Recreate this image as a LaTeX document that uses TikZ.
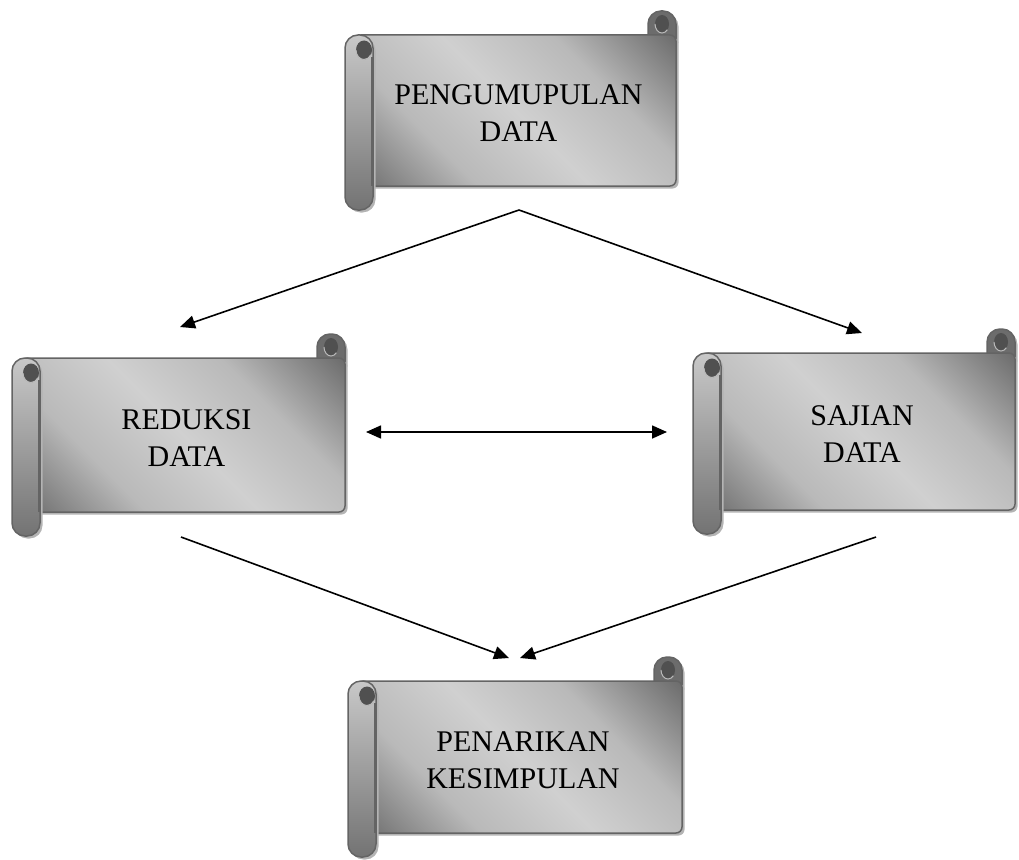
\documentclass[tikz,border=0pt]{standalone}
\usepackage{fontspec}
\setmainfont{Liberation Serif}
\usetikzlibrary{arrows.meta,shadows}
\definecolor{scrolldark}{RGB}{105,105,105}
\definecolor{scrollmid}{RGB}{185,185,185}
\definecolor{scrolllight}{RGB}{208,208,208}
\definecolor{rolltop}{RGB}{200,200,200}
\definecolor{rollbottom}{RGB}{115,115,115}
\definecolor{rightrollfill}{RGB}{108,108,108}
\definecolor{scrolledge}{RGB}{100,100,100}
\definecolor{curldark}{RGB}{80,80,80}
\definecolor{shadowgray}{RGB}{180,180,180}
\pgfdeclarehorizontalshading{scrollbodyshade}{100bp}{color(0bp)=(scrolldark); color(14bp)=(scrolldark); color(33bp)=(scrollmid); color(50bp)=(scrolllight); color(67bp)=(scrollmid); color(86bp)=(scrolldark); color(100bp)=(scrolldark)}
\tikzset{
  scrollline/.style={draw=scrolledge, line width=1.5pt},
  scrollshadow/.style={drop shadow={shadow xshift=2.5pt, shadow yshift=-2.5pt, fill=shadowgray, opacity=1}},
  bodystyle/.style={scrollline, scrollshadow, shading=scrollbodyshade, shading angle=45, rounded corners=6pt},
  leftroll/.style={scrollline, scrollshadow, top color=rolltop, bottom color=rollbottom, rounded corners=13pt},
  rightroll/.style={scrollline, scrollshadow, fill=rightrollfill, rounded corners=13pt},
  curl/.style={fill=curldark},
  curledge/.style={draw=scrolledge!45!white, line width=1pt},
  scrolltext/.style={align=center, font=\fontsize{30}{37}\selectfont, inner sep=0pt},
  arr/.style={line width=1.6pt, -{Triangle[length=15pt,width=13pt]}},
  darr/.style={line width=1.6pt, {Triangle[length=15pt,width=13pt]}-{Triangle[length=15pt,width=13pt]}}
}
% #1 name, #2 x1, #3 y1, #4 x2, #5 y2, #6 text
\newcommand{\scrollshape}[6]{%
  % right roll (behind body)
  \path[rightroll] ({#4-28},{#3+6}) -- ({#4-28},{#3-24}) -- (#4,{#3-24}) -- (#4,{#3+6});
  \fill[curl] ({#4-14},{#3-11}) ellipse [x radius=7pt, y radius=9pt];
  \draw[curledge] ({#4-21},{#3-11}) arc [start angle=180, end angle=320, x radius=7pt, y radius=9pt];
  % body
  \shade[bodystyle] ({#2+10},#3) rectangle (#4,#5);
  % left roll
  \shade[leftroll] (#2,#3) rectangle ({#2+28},{#5+24});
  \draw[scrolledge, line width=1.3pt] ({#2+27},{#3+22}) -- ({#2+27},#5);
  \fill[curl] ({#2+19},{#3+15}) ellipse [x radius=8pt, y radius=9.5pt];
  \draw[curledge] ({#2+11},{#3+15}) arc [start angle=180, end angle=330, x radius=8pt, y radius=9.5pt];
  % text
  \node[scrolltext] (#1) at ({(#2+#4)/2+8},{(#3+#5)/2+3}) {#6};
}
\begin{document}
\begin{tikzpicture}[x=1pt,y=-1pt]
\useasboundingbox (0,0) rectangle (1019,859);
\scrollshape{pd}{345}{35}{676}{186}{PENGUMUPULAN\\DATA}
\scrollshape{rd}{12}{358}{345}{512}{REDUKSI\\DATA}
\scrollshape{sd}{693}{353}{1015}{510}{SAJIAN\\DATA}
\scrollshape{pk}{348}{681}{682}{833}{PENARIKAN\\KESIMPULAN}
% connector endpoints
\coordinate (pdout) at (519,210);
\coordinate (rdin) at (180,327);
\coordinate (sdin) at (862,333);
\coordinate (rdright) at (366,432);
\coordinate (sdleft) at (667,432);
\coordinate (rdout) at (181,537);
\coordinate (sdout) at (876,537);
\coordinate (pkinl) at (509,658);
\coordinate (pkinr) at (520,658);
\draw[arr] (pdout) -- (rdin);
\draw[arr] (pdout) -- (sdin);
\draw[darr] (rdright) -- (sdleft);
\draw[arr] (rdout) -- (pkinl);
\draw[arr] (sdout) -- (pkinr);
\end{tikzpicture}
\end{document}
